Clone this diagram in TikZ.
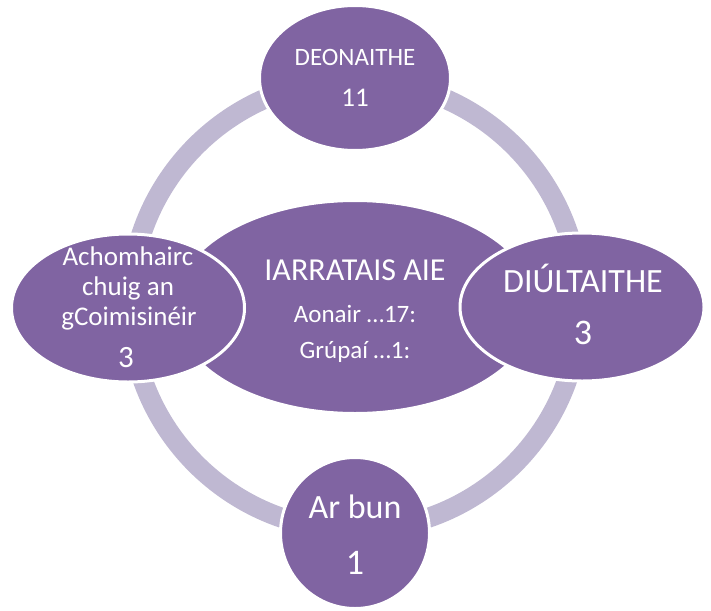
\documentclass[tikz,border=0pt]{standalone}
\usepackage{fontspec}
\setmainfont{Carlito}
\usetikzlibrary{shapes.geometric}
\definecolor{cyclefill}{RGB}{128,100,162}
\definecolor{cyclering}{RGB}{191,184,210}

\begin{document}
\begin{tikzpicture}[x=1pt,y=-1pt,
	stage/.style={ellipse, fill=cyclefill, draw=white, line width=3pt, inner sep=0pt},
	lbl/.style={text=white, anchor=base, inner sep=0pt},
	small/.style={lbl, font=\fontsize{25}{29}\selectfont},
	mid/.style={lbl, font=\fontsize{27}{31}\selectfont},
	big/.style={lbl, font=\fontsize{34}{39}\selectfont},
	count/.style={lbl, font=\fontsize{36}{40}\selectfont}]
	\useasboundingbox (0,0) rectangle (711,610);
	\coordinate (hub) at (355,305);
	\draw[cyclering, line width=20pt] (hub) circle[radius=225];
	% stages
	\node[stage, minimum width=363, minimum height=213] (iarr) at (355,307) {};
	\node[stage, minimum width=191, minimum height=145] (deon) at (355,78) {};
	\node[stage, minimum width=233, minimum height=148] (acho) at (128,308) {};
	\node[stage, minimum width=244, minimum height=148] (diul) at (582,307) {};
	\node[stage, minimum width=149, minimum height=151] (arbun) at (355,533) {};
	% texts
	\node[small] (deon-t) at (355,65) {DEONAITHE};
	\node[lbl, font=\fontsize{27}{31}\selectfont] (deon-n) at (355,106) {11};
	\node[mid] (acho-t1) at (128,265) {Achomhairc};
	\node[mid] (acho-t2) at (128,295) {chuig an};
	\node[mid] (acho-t3) at (129,325) {gCoimisinéir};
	\node[lbl, font=\fontsize{31}{35}\selectfont] (acho-n) at (126,367) {3};
	\node[lbl, font=\fontsize{32}{36}\selectfont] (iarr-t) at (355,280) {IARRATAIS AIE};
	\node[small] (iarr-a) at (355,322) {Aonair …17:};
	\node[small] (iarr-g) at (355,358) {Grúpaí …1:};
	\node[big] (diul-t) at (583,292) {DIÚLTAITHE};
	\node[count] (diul-n) at (583,344) {3};
	\node[big] (arbun-t) at (355,518) {Ar bun};
	\node[count] (arbun-n) at (355,574) {1};
\end{tikzpicture}
\end{document}
